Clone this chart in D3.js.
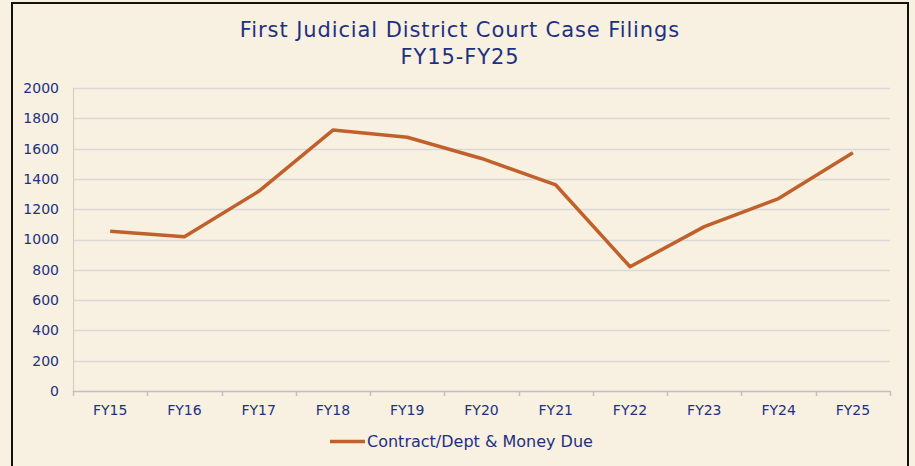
<!DOCTYPE html>
<html lang="en">
<head>
    <meta charset="UTF-8">
    <title>First Judicial District Court Case Filings</title>
    <style>
        body { margin: 0; background: #f8f0e1; }
        svg { display: block; }
        text { font-family: "DejaVu Sans", Verdana, sans-serif; fill: #1d3182; }
        .title { font-size: 21px; letter-spacing: 0.9px; }
    </style>
</head>
<body>
    <div id="chart"></div>
    <script src="https://d3js.org/d3.v7.min.js"></script>
    <script>
        const years = ["FY15", "FY16", "FY17", "FY18", "FY19", "FY20", "FY21", "FY22", "FY23", "FY24", "FY25"];
        const filings = [1055, 1018, 1318, 1722, 1675, 1535, 1360, 820, 1085, 1270, 1572];
        const yTicks = [0, 200, 400, 600, 800, 1000, 1200, 1400, 1600, 1800, 2000];
        const seriesName = "Contract/Dept & Money Due";

        const W = 915, H = 466;
        const margin = { top: 88, right: 25, bottom: 75, left: 73 },
              width = 890 - margin.left,
              height = 391 - margin.top;

        const root = d3.select("#chart")
            .append("svg")
            .attr("width", W)
            .attr("height", H);

        root.append("rect")
            .attr("x", 0).attr("y", 0).attr("width", W).attr("height", H)
            .style("fill", "#f8f0e1");

        // outer frame (left, top, right)
        root.append("path")
            .attr("d", "M12," + H + "V3H908V" + H)
            .style("fill", "none")
            .style("stroke", "#111")
            .style("stroke-width", 2);

        root.append("text")
            .attr("class", "title")
            .attr("x", 460).attr("y", 37)
            .attr("text-anchor", "middle")
            .text("First Judicial District Court Case Filings");
        root.append("text")
            .attr("class", "title")
            .attr("x", 460).attr("y", 64)
            .attr("text-anchor", "middle")
            .text("FY15-FY25");

        const svg = root.append("g")
            .attr("transform", "translate(" + margin.left + "," + margin.top + ")");

        const x = d3.scaleBand()
            .domain(years)
            .range([0, width]);

        const y = d3.scaleLinear()
            .domain([0, 2000])
            .range([height, 0]);

        // gridlines
        svg.selectAll(".grid")
            .data(yTicks.filter(d => d > 0))
            .enter().append("line")
            .attr("x1", 0).attr("x2", width)
            .attr("y1", d => Math.round(y(d)) + 0.5)
            .attr("y2", d => Math.round(y(d)) + 0.5)
            .style("stroke", "#d9d9d9")
            .style("stroke-width", 1.5);

        // left axis line
        svg.append("line")
            .attr("x1", 0.5).attr("x2", 0.5)
            .attr("y1", 0).attr("y2", height)
            .style("stroke", "#cfc8bb");

        // y labels
        svg.selectAll(".ylab")
            .data(yTicks)
            .enter().append("text")
            .attr("x", -14)
            .attr("y", d => y(d))
            .attr("dy", "0.35em")
            .attr("text-anchor", "end")
            .style("font-size", "14px")
            .text(d => d);

        // bottom axis
        const xAxis = svg.append("g")
            .attr("transform", "translate(0," + height + ")");
        xAxis.append("line")
            .attr("x1", 0).attr("x2", width)
            .attr("y1", 0.5).attr("y2", 0.5)
            .style("stroke", "#c0c0c0")
            .style("stroke-width", 1.5);
        xAxis.selectAll(".tick")
            .data(years.concat(["end"]))
            .enter().append("line")
            .attr("x1", (d, i) => Math.round(i * x.bandwidth()) + 0.5)
            .attr("x2", (d, i) => Math.round(i * x.bandwidth()) + 0.5)
            .attr("y1", 0).attr("y2", 5)
            .style("stroke", "#c0c0c0")
            .style("stroke-width", 1.5);
        xAxis.selectAll(".xlab")
            .data(years)
            .enter().append("text")
            .attr("x", d => x(d) + x.bandwidth() / 2)
            .attr("y", 24)
            .attr("text-anchor", "middle")
            .style("font-size", "14px")
            .text(d => d);

        // data line
        const line = d3.line()
            .x((d, i) => x(years[i]) + x.bandwidth() / 2)
            .y(d => y(d));

        svg.append("path")
            .datum(filings)
            .attr("d", line)
            .style("fill", "none")
            .style("stroke", "#c0612b")
            .style("stroke-width", 3.5)
            .style("stroke-linejoin", "round");

        // legend
        const legend = root.append("g")
            .attr("transform", "translate(330,441.5)");
        legend.append("line")
            .attr("x1", 0).attr("x2", 35)
            .attr("y1", 0).attr("y2", 0)
            .style("stroke", "#c0612b")
            .style("stroke-width", 3.5);
        legend.append("text")
            .attr("x", 37).attr("y", 0)
            .attr("dy", "0.35em")
            .style("font-size", "16px")
            .text(seriesName);
    </script>
</body>
</html>
